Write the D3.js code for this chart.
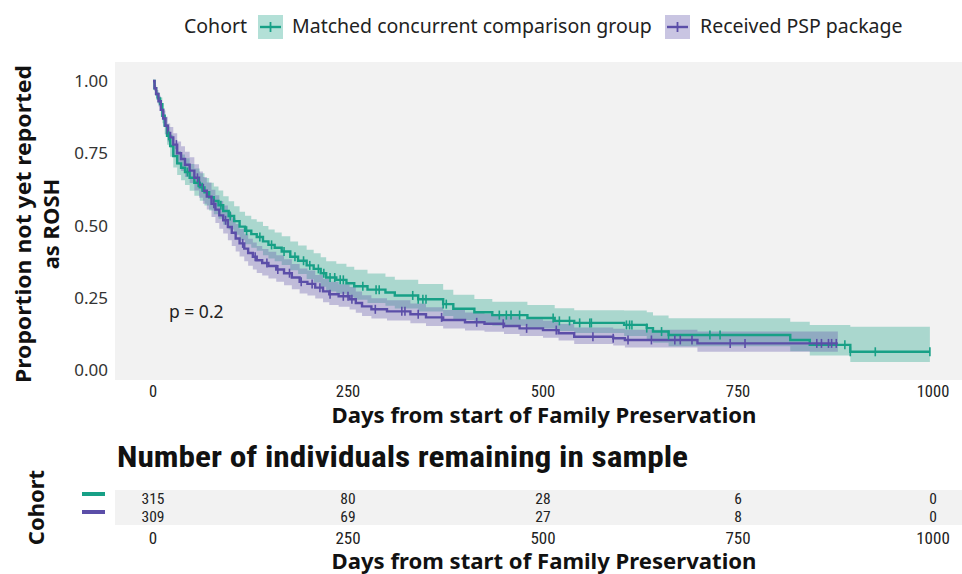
<!DOCTYPE html>
<html>
<head>
<meta charset="utf-8">
<script src="https://cdn.jsdelivr.net/npm/d3@7"></script>
<style>
  html, body { margin: 0; padding: 0; background: #ffffff; }
  svg { display: block; }
  .geo { font-family: "Noto Sans", "Lato", sans-serif; }
  .narrow { font-family: "Liberation Sans Narrow", "Roboto Condensed", "Roboto", sans-serif; }
</style>
</head>
<body>
<svg id="chart" width="962" height="574"></svg>
<script>
// ---- Data ----------------------------------------------------------------
const cohorts = ["Matched concurrent comparison group", "Received PSP package"];
const xTicks = [0, 250, 500, 750, 1000];
const yTicks = [0, 0.25, 0.5, 0.75, 1];
const yTickLabels = ["0.00", "0.25", "0.50", "0.75", "1.00"];
const riskTimes = [0, 250, 500, 750, 1000];
const riskComparison = [315, 80, 28, 6, 0];
const riskPSP = [309, 69, 27, 8, 0];
const pValueLabel = "p = 0.2";

// Kaplan–Meier estimate, comparison group (step times, survival, 95% CI)
const compTime = [0, 2, 4, 6, 9, 12, 15, 18, 22, 26, 31, 36, 41, 47, 53, 60, 66, 72, 78, 84, 90, 97, 104, 111, 118, 126, 133, 141, 148, 156, 165, 176, 186, 197, 206, 215, 222, 235, 248, 258, 275, 298, 310, 340, 372, 385, 412, 435, 480, 515, 540, 604, 633, 641, 661, 817, 842, 894];
const compSurv = [1, 0.975, 0.955, 0.94, 0.92, 0.88, 0.845, 0.81, 0.775, 0.74, 0.715, 0.70, 0.685, 0.665, 0.648, 0.632, 0.615, 0.598, 0.585, 0.57, 0.55, 0.533, 0.515, 0.496, 0.482, 0.47, 0.46, 0.445, 0.433, 0.423, 0.41, 0.392, 0.378, 0.362, 0.35, 0.335, 0.32, 0.312, 0.30, 0.29, 0.278, 0.268, 0.258, 0.245, 0.228, 0.212, 0.20, 0.19, 0.18, 0.17, 0.163, 0.156, 0.145, 0.133, 0.121, 0.104, 0.087, 0.063];
const compLower = [1, 0.965, 0.941, 0.922, 0.898, 0.854, 0.816, 0.779, 0.738, 0.701, 0.675, 0.657, 0.64, 0.62, 0.603, 0.586, 0.569, 0.552, 0.539, 0.523, 0.503, 0.486, 0.468, 0.449, 0.435, 0.423, 0.413, 0.397, 0.386, 0.376, 0.363, 0.345, 0.332, 0.315, 0.303, 0.288, 0.272, 0.264, 0.252, 0.243, 0.232, 0.222, 0.213, 0.202, 0.187, 0.173, 0.163, 0.153, 0.144, 0.135, 0.128, 0.118, 0.105, 0.094, 0.082, 0.065, 0.05, 0.028];
const compUpper = [1, 0.985, 0.969, 0.959, 0.943, 0.906, 0.875, 0.842, 0.814, 0.781, 0.758, 0.746, 0.733, 0.713, 0.697, 0.681, 0.664, 0.648, 0.635, 0.621, 0.601, 0.584, 0.567, 0.548, 0.534, 0.522, 0.513, 0.498, 0.486, 0.476, 0.463, 0.445, 0.431, 0.416, 0.404, 0.39, 0.376, 0.368, 0.357, 0.347, 0.334, 0.323, 0.312, 0.298, 0.278, 0.26, 0.246, 0.236, 0.225, 0.214, 0.207, 0.206, 0.2, 0.189, 0.179, 0.167, 0.156, 0.15];
const compEnd = 996;
const compCensor = [20, 44, 58, 63, 87, 99, 120, 137, 152, 168, 182, 193, 201, 212, 219, 227, 233, 240, 244, 269, 286, 290, 333, 340, 346, 350, 372, 376, 444, 453, 459, 470, 513, 521, 534, 547, 560, 562, 607, 611, 614, 633, 652, 661, 714, 727, 887, 894, 926, 996];

// Kaplan–Meier estimate, PSP package group
const pspTime = [0, 2, 4, 7, 10, 13, 16, 19, 22, 26, 31, 36, 41, 47, 53, 59, 64, 69, 75, 80, 85, 90, 96, 101, 106, 111, 117, 122, 128, 133, 140, 148, 158, 168, 178, 188, 198, 208, 218, 226, 238, 252, 260, 268, 280, 300, 330, 350, 372, 400, 425, 450, 470, 500, 520, 540, 590, 605, 698];
const pspSurv = [1, 0.975, 0.955, 0.93, 0.90, 0.87, 0.845, 0.82, 0.805, 0.78, 0.75, 0.73, 0.71, 0.69, 0.665, 0.64, 0.62, 0.60, 0.575, 0.555, 0.535, 0.518, 0.495, 0.475, 0.455, 0.438, 0.42, 0.405, 0.392, 0.38, 0.37, 0.36, 0.348, 0.335, 0.32, 0.305, 0.298, 0.285, 0.272, 0.262, 0.255, 0.245, 0.232, 0.22, 0.21, 0.203, 0.193, 0.182, 0.173, 0.165, 0.16, 0.152, 0.144, 0.138, 0.127, 0.115, 0.11, 0.104, 0.092];
const pspLower = [1, 0.965, 0.941, 0.912, 0.876, 0.843, 0.815, 0.788, 0.77, 0.743, 0.711, 0.689, 0.668, 0.647, 0.621, 0.596, 0.575, 0.555, 0.529, 0.509, 0.489, 0.472, 0.449, 0.429, 0.41, 0.393, 0.376, 0.361, 0.348, 0.336, 0.327, 0.317, 0.305, 0.293, 0.279, 0.265, 0.258, 0.247, 0.234, 0.225, 0.219, 0.209, 0.198, 0.187, 0.178, 0.171, 0.162, 0.152, 0.144, 0.137, 0.132, 0.125, 0.118, 0.112, 0.102, 0.09, 0.085, 0.078, 0.063];
const pspUpper = [1, 0.985, 0.969, 0.949, 0.924, 0.898, 0.876, 0.853, 0.841, 0.819, 0.791, 0.774, 0.755, 0.736, 0.712, 0.687, 0.668, 0.649, 0.624, 0.605, 0.585, 0.569, 0.545, 0.525, 0.505, 0.488, 0.47, 0.454, 0.441, 0.429, 0.419, 0.409, 0.397, 0.383, 0.367, 0.351, 0.344, 0.329, 0.316, 0.305, 0.297, 0.287, 0.272, 0.259, 0.248, 0.241, 0.23, 0.217, 0.208, 0.199, 0.194, 0.185, 0.176, 0.17, 0.159, 0.147, 0.143, 0.139, 0.133];
const pspEnd = 878;
const pspCensor = [30, 57, 78, 93, 115, 131, 146, 160, 175, 190, 204, 214, 227, 244, 250, 255, 285, 319, 323, 340, 370, 415, 449, 479, 517, 564, 590, 609, 639, 669, 676, 691, 740, 759, 851, 857, 866, 870, 876];

// ---- Appearance ------------------------------------------------------------
const colors = ["#17a086", "#5b4ea8"];
const panelBg = "#f2f2f2";

const svg = d3.select("#chart");

// Layout
const panel = { left: 115, right: 962, top: 62, bottom: 380 };
const x = d3.scaleLinear().domain([0, 1000]).range([153, 933]);
const y = d3.scaleLinear().domain([0, 1]).range([370, 81]);

// Build series records
function buildSeries(time, surv, lower, upper, end) {
  const pts = time.map((t, i) => ({ t, s: surv[i], lo: lower[i], hi: upper[i] }));
  const last = pts[pts.length - 1];
  pts.push({ t: end, s: last.s, lo: last.lo, hi: last.hi });
  return pts;
}
const series = [
  { name: cohorts[0], color: colors[0], pts: buildSeries(compTime, compSurv, compLower, compUpper, compEnd), censor: compCensor, time: compTime, surv: compSurv },
  { name: cohorts[1], color: colors[1], pts: buildSeries(pspTime, pspSurv, pspLower, pspUpper, pspEnd), censor: pspCensor, time: pspTime, surv: pspSurv }
];

function survAt(sr, t) {
  const i = d3.bisectRight(sr.time, t) - 1;
  return sr.surv[Math.max(0, i)];
}

// ---- Main survival panel ----------------------------------------------------
svg.append("defs").append("clipPath").attr("id", "panelClip")
  .append("rect")
  .attr("x", panel.left).attr("y", panel.top)
  .attr("width", panel.right - panel.left).attr("height", panel.bottom - panel.top);

svg.append("rect")
  .attr("x", panel.left).attr("y", panel.top)
  .attr("width", panel.right - panel.left).attr("height", panel.bottom - panel.top)
  .attr("fill", panelBg);

const plotG = svg.append("g").attr("clip-path", "url(#panelClip)");

const band = d3.area()
  .curve(d3.curveStepAfter)
  .x(d => x(d.t)).y0(d => y(d.lo)).y1(d => y(d.hi));
const line = d3.line()
  .curve(d3.curveStepAfter)
  .x(d => x(d.t)).y(d => y(d.s));

plotG.selectAll("path.band").data(series).join("path")
  .attr("class", "band")
  .attr("d", d => band(d.pts))
  .attr("fill", d => d.color)
  .attr("fill-opacity", 0.33);

plotG.selectAll("path.km").data(series).join("path")
  .attr("class", "km")
  .attr("d", d => line(d.pts))
  .attr("fill", "none")
  .attr("stroke", d => d.color)
  .attr("stroke-width", 2.4);

series.forEach(sr => {
  plotG.selectAll(null).data(sr.censor).join("line")
    .attr("x1", t => x(t)).attr("x2", t => x(t))
    .attr("y1", t => y(survAt(sr, t)) - 4.5)
    .attr("y2", t => y(survAt(sr, t)) + 4.5)
    .attr("stroke", sr.color)
    .attr("stroke-width", 1.6);
});

// p-value
svg.append("text").attr("class", "geo")
  .attr("x", 169).attr("y", y(0.2) + 6)
  .attr("font-size", 17.5).attr("fill", "#222")
  .text(pValueLabel);

// Y axis labels
svg.selectAll("text.ytick").data(yTicks).join("text")
  .attr("class", "ytick geo")
  .attr("x", 108).attr("y", d => y(d))
  .attr("dy", "0.36em")
  .attr("text-anchor", "end")
  .attr("font-size", 17).attr("fill", "#333")
  .text((d, i) => yTickLabels[i]);

// Y axis title (two lines)
const yTitle = svg.append("text").attr("class", "geo")
  .attr("transform", `translate(0, ${(panel.top + panel.bottom) / 2 + 3}) rotate(-90)`)
  .attr("text-anchor", "middle")
  .attr("font-size", 22).attr("font-weight", "bold").attr("fill", "#111");
yTitle.append("tspan").attr("x", 0).attr("y", 31)
  .attr("textLength", 318).attr("lengthAdjust", "spacingAndGlyphs")
  .text("Proportion not yet reported");
yTitle.append("tspan").attr("x", 0).attr("y", 59).text("as ROSH");

// X axis labels (main)
svg.selectAll("text.xtick").data(xTicks).join("text")
  .attr("class", "xtick narrow")
  .attr("x", d => x(d)).attr("y", 396.5)
  .attr("text-anchor", "middle")
  .attr("font-size", 16.5).attr("fill", "#222")
  .text(d => d);

svg.append("text").attr("class", "geo")
  .attr("x", 544).attr("y", 423)
  .attr("text-anchor", "middle")
  .attr("font-size", 20.5).attr("font-weight", "bold").attr("fill", "#111")
  .attr("textLength", 425).attr("lengthAdjust", "spacingAndGlyphs")
  .text("Days from start of Family Preservation");

// ---- Legend --------------------------------------------------------------
const legend = svg.append("g");
legend.append("text").attr("class", "geo")
  .attr("x", 184).attr("y", 33)
  .attr("font-size", 19.5).attr("fill", "#222")
  .text("Cohort");

const legendItems = [
  { label: cohorts[0], color: colors[0], kx: 258, tx: 292 },
  { label: cohorts[1], color: colors[1], kx: 665, tx: 700 }
];
legendItems.forEach(it => {
  const g = legend.append("g");
  g.append("rect").attr("x", it.kx).attr("y", 15).attr("width", 25).attr("height", 24)
    .attr("fill", it.color).attr("fill-opacity", 0.33);
  g.append("line").attr("x1", it.kx + 2).attr("x2", it.kx + 23).attr("y1", 27).attr("y2", 27)
    .attr("stroke", it.color).attr("stroke-width", 2.4);
  g.append("line").attr("x1", it.kx + 12.5).attr("x2", it.kx + 12.5).attr("y1", 22).attr("y2", 32)
    .attr("stroke", it.color).attr("stroke-width", 1.8);
  g.append("text").attr("class", "geo")
    .attr("x", it.tx).attr("y", 33)
    .attr("font-size", 19.5).attr("fill", "#222")
    .text(it.label);
});

// ---- Risk table ------------------------------------------------------------
svg.append("text").attr("class", "narrow")
  .attr("x", 117).attr("y", 467)
  .attr("font-size", 30).attr("font-weight", "bold").attr("fill", "#111")
  .attr("textLength", 571).attr("lengthAdjust", "spacingAndGlyphs")
  .text("Number of individuals remaining in sample");

const tableTop = 490, tableBottom = 525;
svg.append("rect")
  .attr("x", panel.left).attr("y", tableTop)
  .attr("width", panel.right - panel.left).attr("height", tableBottom - tableTop)
  .attr("fill", panelBg);

const rowY = d3.scalePoint().domain(cohorts).range([498, 516]);
const riskRows = [
  { name: cohorts[0], color: colors[0], values: riskComparison },
  { name: cohorts[1], color: colors[1], values: riskPSP }
];
riskRows.forEach(row => {
  svg.selectAll(null).data(row.values).join("text")
    .attr("class", "narrow")
    .attr("x", (d, i) => x(riskTimes[i])).attr("y", rowY(row.name))
    .attr("dy", "0.36em")
    .attr("text-anchor", "middle")
    .attr("font-size", 15.5).attr("fill", "#222")
    .text(d => d);
  svg.append("line")
    .attr("x1", 82).attr("x2", 105)
    .attr("y1", rowY(row.name) - 4).attr("y2", rowY(row.name) - 4)
    .attr("stroke", row.color).attr("stroke-width", 4);
});

svg.append("text").attr("class", "geo")
  .attr("transform", `translate(44, ${(tableTop + tableBottom) / 2}) rotate(-90)`)
  .attr("text-anchor", "middle")
  .attr("font-size", 22).attr("font-weight", "bold").attr("fill", "#111")
  .text("Cohort");

svg.selectAll("text.rtick").data(xTicks).join("text")
  .attr("class", "rtick narrow")
  .attr("x", d => x(d)).attr("y", 544)
  .attr("text-anchor", "middle")
  .attr("font-size", 17).attr("fill", "#222")
  .text(d => d);

svg.append("text").attr("class", "geo")
  .attr("x", 544).attr("y", 569)
  .attr("text-anchor", "middle")
  .attr("font-size", 21).attr("font-weight", "bold").attr("fill", "#111")
  .attr("textLength", 425).attr("lengthAdjust", "spacingAndGlyphs")
  .text("Days from start of Family Preservation");
</script>
</body>
</html>
